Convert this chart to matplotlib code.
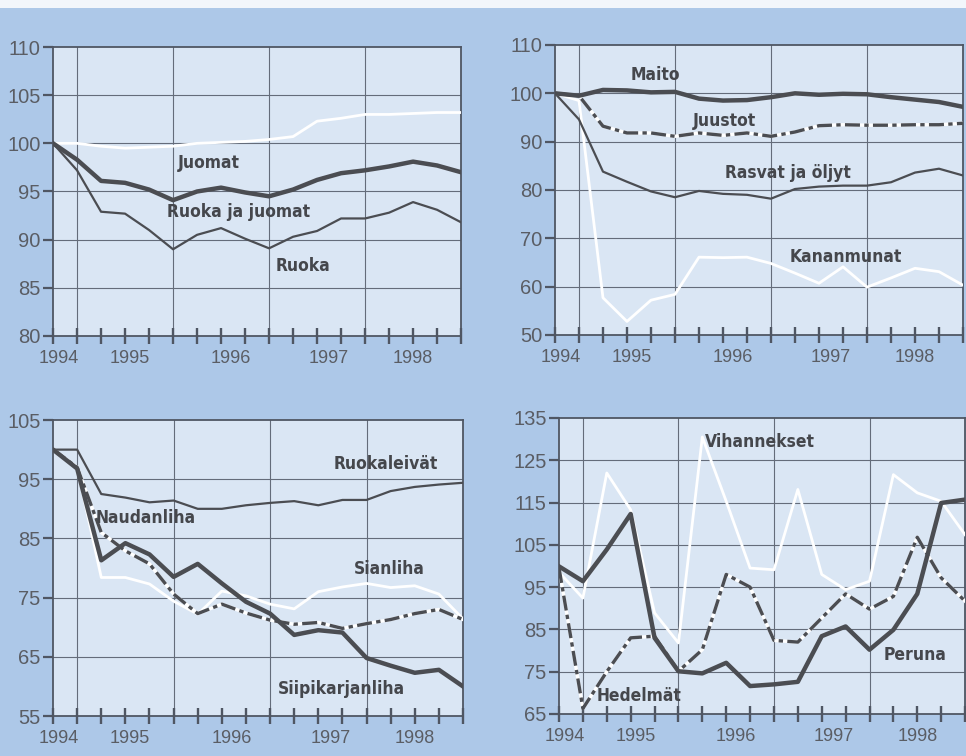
import matplotlib
matplotlib.use("Agg")
import matplotlib.pyplot as plt
from matplotlib.patches import Rectangle

# quarterly index points, 18 per series
quarters = list(range(18))
years = ["1994", "1995", "1996", "1997", "1998"]

# top left: food and drinks
juomat = [100, 100.0, 99.7, 99.5, 99.6, 99.7, 100.0, 100.1, 100.2, 100.4, 100.7,
          102.3, 102.6, 103.0, 103.0, 103.1, 103.2, 103.2]
ruoka_ja_juomat = [100, 98.3, 96.1, 95.9, 95.2, 94.1, 95.0, 95.4, 94.9, 94.5, 95.2,
                   96.2, 96.9, 97.2, 97.6, 98.1, 97.7, 97.0]
ruoka = [100, 97.2, 92.9, 92.7, 91.0, 89.0, 90.5, 91.2, 90.1, 89.1, 90.3,
         90.9, 92.2, 92.2, 92.8, 93.9, 93.1, 91.8]

# top right: dairy, fats, eggs
maito = [100, 99.5, 100.7, 100.6, 100.2, 100.3, 98.9, 98.5, 98.6, 99.2, 100.0,
         99.7, 99.9, 99.8, 99.2, 98.7, 98.2, 97.2]
juustot = [100, 99.5, 93.2, 91.8, 91.8, 91.1, 91.8, 91.3, 91.8, 91.1, 92.0,
           93.3, 93.5, 93.4, 93.4, 93.5, 93.5, 93.8]
rasvat = [100, 94.6, 83.8, 81.7, 79.7, 78.5, 79.8, 79.2, 79.0, 78.2, 80.2,
          80.7, 80.9, 80.9, 81.6, 83.6, 84.4, 83.0]
kananmunat = [100, 98.5, 57.7, 52.8, 57.2, 58.4, 66.1, 66.0, 66.1, 64.8, 62.8,
              60.7, 64.1, 59.9, 61.8, 63.8, 63.1, 60.3]

# bottom left: bread and meat
ruokaleivat = [100, 100, 92.5, 91.9, 91.1, 91.4, 90.0, 90.0, 90.6, 91.0, 91.3,
               90.6, 91.5, 91.5, 93.0, 93.7, 94.1, 94.4]
siipikarjanliha = [100, 96.8, 81.3, 84.2, 82.3, 78.5, 80.7, 77.4, 74.3, 72.3, 68.7,
                   69.5, 69.1, 64.8, 63.5, 62.3, 62.8, 60.0]
naudanliha = [100, 97.0, 86.0, 82.9, 80.7, 75.6, 72.3, 73.9, 72.4, 71.2, 70.5,
              70.8, 69.8, 70.6, 71.3, 72.3, 73.0, 71.3]
sianliha = [100, 97.0, 78.4, 78.4, 77.3, 74.4, 72.2, 76.1, 75.3, 73.9, 73.1,
            76.0, 76.8, 77.4, 76.7, 77.0, 75.6, 71.4]

# bottom right: vegetables, fruit, potatoes
vihannekset = [98.5, 92.4, 122.0, 113.3, 88.9, 81.8, 130.5, 115.3, 99.5, 99.1, 118.1,
               98.0, 94.4, 96.4, 121.6, 117.3, 115.3, 107.4]
hedelmat = [99.5, 66.3, 75.0, 83.0, 83.4, 75.1, 80.2, 98.0, 95.0, 82.4, 82.0,
            87.7, 93.4, 89.8, 92.8, 106.8, 97.2, 91.7]
peruna = [99.9, 96.4, 103.9, 112.3, 83.0, 75.1, 74.6, 77.1, 71.6, 72.0, 72.6,
          83.4, 85.7, 80.2, 84.9, 93.4, 114.9, 115.7]

BG = "#adc8e8"
PLOT_BG = "#dae6f4"
DARK = "#4b4d52"
GRID = "#646c7a"
TICK = "#4f5663"
TXT = "#45474c"
TICKTXT = "#5a5d64"

label_font = ["Liberation Sans Narrow", "DejaVu Sans"]
tick_font = ["Liberation Sans", "DejaVu Sans"]


def draw_series(ax, y, style):
    if style == "white":
        ax.plot(quarters, y, color="white", lw=2.0, zorder=3)
    elif style == "thin":
        ax.plot(quarters, y, color=DARK, lw=1.6, zorder=4)
    elif style == "thick":
        ax.plot(quarters, y, color=DARK, lw=3.2, zorder=5, solid_joinstyle="round")
    elif style == "dashdot":
        ax.plot(quarters, y, color="white", lw=2.4, zorder=4)
        ax.plot(quarters, y, color=DARK, lw=2.4, zorder=4.5,
                dashes=(4.5, 1.3, 1.3, 1.3))


def setup_axes(ax, ylim, ystep):
    ax.set_facecolor(PLOT_BG)
    ax.set_xlim(0, 17)
    ax.set_ylim(*ylim)
    ax.set_yticks(range(ylim[0], ylim[1] + 1, ystep))
    ax.xaxis.remove_overlapping_locs = False
    ax.set_xticks(quarters)
    ax.set_xticklabels([])
    # year labels sit between the quarter marks
    ax.set_xticks([0.25, 3.2, 7.4, 11.5, 15.0], minor=True)
    ax.set_xticklabels(years, minor=True, family=tick_font, fontsize=13, color=TICKTXT)
    ax.tick_params(axis="x", which="major", direction="inout", length=12,
                   width=1.7, color=TICK, bottom=True)
    ax.tick_params(axis="x", which="minor", length=0, pad=10)
    ax.tick_params(axis="y", which="major", direction="out", length=7, width=1.6,
                   color=TICK, left=True, pad=2, labelsize=14.5, labelcolor=TICKTXT)
    for lab in ax.get_yticklabels():
        lab.set_family(tick_font)
    for y in range(ylim[0] + ystep, ylim[1], ystep):
        ax.axhline(y, color=GRID, lw=0.8, zorder=1)
    for x in [1, 5, 9, 13]:
        ax.axvline(x, color=GRID, lw=0.8, zorder=1)
    for sp in ax.spines.values():
        sp.set_color(TICK)
        sp.set_linewidth(1.3)


def put_label(ax, x, y, text):
    ax.text(x, y, text, ha="center", va="center", fontsize=12.5, fontweight="bold",
            fontstretch="condensed", family=label_font, color=TXT, zorder=6)


fig = plt.figure(figsize=(9.66, 7.56), dpi=100, facecolor=BG)
fig.add_artist(Rectangle((0, 0.989), 1, 0.011, transform=fig.transFigure,
                         facecolor="#f2f6fb", edgecolor="none"))

ax1 = fig.add_axes([0.0549, 0.5556, 0.4224, 0.3822])
ax2 = fig.add_axes([0.5745, 0.5569, 0.4224, 0.3836])
ax3 = fig.add_axes([0.0549, 0.0529, 0.4244, 0.3915])
ax4 = fig.add_axes([0.5787, 0.0556, 0.4203, 0.3915])

setup_axes(ax1, (80, 110), 5)
draw_series(ax1, juomat, "white")
draw_series(ax1, ruoka, "thin")
draw_series(ax1, ruoka_ja_juomat, "thick")
put_label(ax1, 6.5, 98.0, "Juomat")
put_label(ax1, 7.75, 92.9, "Ruoka ja juomat")
put_label(ax1, 10.4, 87.3, "Ruoka")

setup_axes(ax2, (50, 110), 10)
draw_series(ax2, kananmunat, "white")
draw_series(ax2, rasvat, "thin")
draw_series(ax2, juustot, "dashdot")
draw_series(ax2, maito, "thick")
put_label(ax2, 4.2, 103.8, "Maito")
put_label(ax2, 7.05, 94.3, "Juustot")
put_label(ax2, 9.7, 83.5, "Rasvat ja öljyt")
put_label(ax2, 12.1, 66.1, "Kananmunat")

setup_axes(ax3, (55, 105), 10)
draw_series(ax3, sianliha, "white")
draw_series(ax3, ruokaleivat, "thin")
draw_series(ax3, naudanliha, "dashdot")
draw_series(ax3, siipikarjanliha, "thick")
put_label(ax3, 13.8, 97.6, "Ruokaleivät")
put_label(ax3, 3.85, 88.4, "Naudanliha")
put_label(ax3, 13.95, 79.9, "Sianliha")
put_label(ax3, 11.95, 59.5, "Siipikarjanliha")

setup_axes(ax4, (65, 135), 10)
draw_series(ax4, vihannekset, "white")
draw_series(ax4, hedelmat, "dashdot")
draw_series(ax4, peruna, "thick")
put_label(ax4, 8.4, 129.3, "Vihannekset")
put_label(ax4, 3.35, 69.3, "Hedelmät")
put_label(ax4, 14.9, 79.0, "Peruna")

fig.savefig("out.png", dpi=100, facecolor=BG)
